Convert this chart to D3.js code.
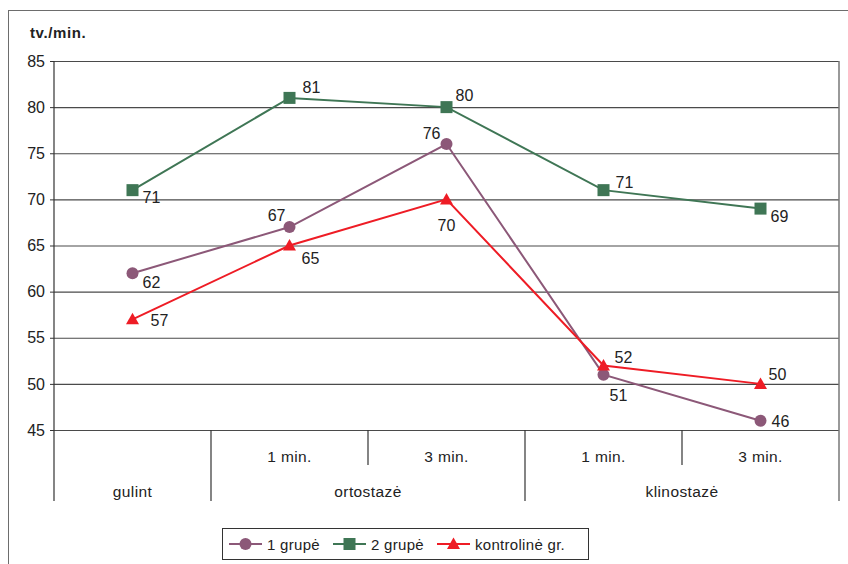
<!DOCTYPE html>
<html>
<head>
<meta charset="utf-8">
<script src="https://cdn.jsdelivr.net/npm/d3@7"></script>
<style>
  html, body { margin: 0; padding: 0; background: #fff; }
  svg { display: block; font-family: "Liberation Sans", Arial, sans-serif; }
</style>
</head>
<body>
<svg id="chart" width="848" height="564"></svg>
<script>
// Heart rate (beats per minute) by body position and time
const categories = ["gulint", "ortostazė 1 min.", "ortostazė 3 min.", "klinostazė 1 min.", "klinostazė 3 min."];
const subLabels = ["", "1 min.", "3 min.", "1 min.", "3 min."];
const groups = [
  { name: "gulint", from: 0, to: 0 },
  { name: "ortostazė", from: 1, to: 2 },
  { name: "klinostazė", from: 3, to: 4 }
];
const grupe1 = [62, 67, 76, 51, 46];
const grupe2 = [71, 81, 80, 71, 69];
const kontroline = [57, 65, 70, 52, 50];
const yTicks = [45, 50, 55, 60, 65, 70, 75, 80, 85];
const yTitle = "tv./min.";

// label offsets (dx, dy, anchor) per point
const series = [
  { name: "1 grupė", values: grupe1, color: "#8c5878", marker: "circle",
    labels: [[10, 15, "start"], [-4, -6, "end"], [-6, -5, "end"], [15, 26, "middle"], [11, 6, "start"]] },
  { name: "2 grupė", values: grupe2, color: "#3f7655", marker: "square",
    labels: [[10, 13, "start"], [13, -5, "start"], [9, -6, "start"], [12, -2, "start"], [10, 13, "start"]] },
  { name: "kontrolinė gr.", values: kontroline, color: "#ee1c25", marker: "triangle",
    labels: [[18, 7, "start"], [12, 18, "start"], [0, 32, "middle"], [11, -2, "start"], [8, -4, "start"]] }
];

const svg = d3.select("#chart");
const plotLeft = 54, plotRight = 839, plotTop = 61, plotBottom = 430;

const x = d3.scaleBand().domain(d3.range(categories.length)).range([plotLeft, plotRight]);
const y = d3.scaleLinear().domain([45, 85]).range([plotBottom, plotTop]);

// outer frame
svg.append("rect").attr("x", 8.5).attr("y", 10.5).attr("width", 860).attr("height", 580)
  .attr("fill", "none").attr("stroke", "#6d6d6d").attr("stroke-width", 1);

// horizontal gridlines
svg.append("g")
  .attr("transform", `translate(${plotLeft},0)`)
  .call(d3.axisLeft(y).tickValues(yTicks).tickSize(-(plotRight - plotLeft)).tickFormat(""))
  .call(g => g.select(".domain").remove())
  .call(g => g.selectAll(".tick line").attr("stroke", "#4a4a4a").attr("stroke-width", 1.2));

// y axis with outward ticks
svg.append("g")
  .attr("transform", `translate(${plotLeft},0)`)
  .call(d3.axisLeft(y).tickValues(yTicks).tickSize(4).tickPadding(5))
  .call(g => g.select(".domain").remove())
  .call(g => g.selectAll(".tick line").attr("stroke", "#333"))
  .call(g => g.selectAll(".tick text").attr("font-size", 16).attr("fill", "#222")
    .attr("font-family", "'Liberation Sans', Arial, sans-serif"));

// vertical frame lines of the plot
svg.append("line").attr("x1", plotLeft).attr("x2", plotLeft).attr("y1", plotTop).attr("y2", 501)
  .attr("stroke", "#333").attr("stroke-width", 1.2);
svg.append("line").attr("x1", plotRight).attr("x2", plotRight).attr("y1", plotTop).attr("y2", 501)
  .attr("stroke", "#777").attr("stroke-width", 1.5);

// y title
svg.append("text").attr("x", 30).attr("y", 38).text(yTitle)
  .attr("font-size", 15).attr("font-weight", "bold").attr("letter-spacing", 0.6).attr("fill", "#222");

// category separators: short ones between sub-categories, long ones between groups
const groupStarts = new Set(groups.map(g => g.from));
for (let i = 1; i < categories.length; i++) {
  const xx = x(i);
  svg.append("line").attr("x1", xx).attr("x2", xx).attr("y1", plotBottom)
    .attr("y2", groupStarts.has(i) ? 501 : 465)
    .attr("stroke", "#333").attr("stroke-width", 1.2);
}

// sub-category labels
svg.append("g").selectAll("text").data(subLabels).join("text")
  .attr("x", (d, i) => x(i) + x.bandwidth() / 2)
  .attr("y", 462)
  .attr("text-anchor", "middle")
  .attr("font-size", 15.5).attr("letter-spacing", 0.4).attr("fill", "#222")
  .text(d => d);

// group labels
svg.append("g").selectAll("text").data(groups).join("text")
  .attr("x", d => (x(d.from) + x(d.to) + x.bandwidth()) / 2)
  .attr("y", 497)
  .attr("text-anchor", "middle")
  .attr("font-size", 15.5).attr("letter-spacing", 0.4).attr("fill", "#222")
  .text(d => d.name);

const cx = i => x(i) + x.bandwidth() / 2;

function drawMarker(g, type, color, px, py) {
  if (type === "circle") {
    g.append("circle").attr("cx", px).attr("cy", py).attr("r", 6).attr("fill", color);
  } else if (type === "square") {
    g.append("rect").attr("x", px - 6).attr("y", py - 6).attr("width", 12).attr("height", 12).attr("fill", color);
  } else {
    g.append("path").attr("d", `M${px},${py - 6.5}L${px + 6.5},${py + 5}L${px - 6.5},${py + 5}Z`).attr("fill", color);
  }
}

const line = d3.line().x((d, i) => cx(i)).y(d => y(d));

series.forEach(s => {
  const g = svg.append("g");
  g.append("path").datum(s.values).attr("d", line)
    .attr("fill", "none").attr("stroke", s.color).attr("stroke-width", 2);
  s.values.forEach((v, i) => drawMarker(g, s.marker, s.color, cx(i), y(v)));
  g.selectAll("text.lbl").data(s.values).join("text")
    .attr("class", "lbl")
    .attr("x", (v, i) => cx(i) + s.labels[i][0])
    .attr("y", (v, i) => y(v) + s.labels[i][1])
    .attr("text-anchor", (v, i) => s.labels[i][2])
    .attr("font-size", 16).attr("fill", "#222")
    .text(v => v);
});

// legend
const leg = svg.append("g");
leg.append("rect").attr("x", 222.5).attr("y", 528.5).attr("width", 366).attr("height", 31)
  .attr("fill", "#fff").attr("stroke", "#333").attr("stroke-width", 1);
const legX = [229, 333, 437];
series.forEach((s, i) => {
  const x0 = legX[i], ly = 544;
  leg.append("line").attr("x1", x0).attr("x2", x0 + 33).attr("y1", ly).attr("y2", ly)
    .attr("stroke", s.color).attr("stroke-width", 2);
  drawMarker(leg, s.marker, s.color, x0 + 16.5, ly);
  leg.append("text").attr("x", x0 + 38).attr("y", ly + 5.5)
    .attr("font-size", 15).attr("letter-spacing", 0.3).attr("fill", "#222").text(s.name);
});
</script>
</body>
</html>
